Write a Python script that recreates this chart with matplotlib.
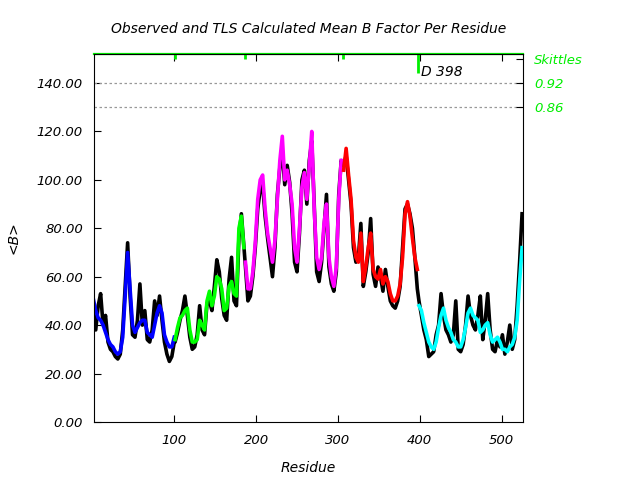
import numpy as np
import matplotlib
matplotlib.use("Agg")
import matplotlib.pyplot as plt

# residue positions for each TLS segment (every third residue)
blue_res = list(range(1, 101, 3))
green_res = list(range(101, 187, 3))
magenta_res = list(range(187, 307, 3))
red_res = list(range(307, 399, 3))
cyan_res = list(range(399, 527, 3))

# TLS calculated mean B per segment
blue_calc = [51, 46, 43, 42, 40, 37, 34, 32, 31, 29, 28, 29, 35, 52, 70, 55, 40,
             37, 39, 41, 42, 42, 37, 36, 35, 40, 45, 48, 45, 36, 33, 31, 31, 35]
green_calc = [34, 39, 43, 44, 46, 47, 38, 33, 33, 34, 42, 40, 38, 50, 54, 48, 52,
              60, 59, 55, 46, 47, 56, 58, 53, 52, 80, 85, 72]
magenta_calc = [66, 55, 55, 62, 74, 92, 100, 102, 88, 78, 72, 66, 75, 92, 108, 118,
                100, 104, 98, 90, 72, 66, 80, 97, 103, 92, 106, 120, 88, 68, 63, 68,
                82, 90, 68, 60, 56, 64, 92, 108]
red_calc = [104, 113, 102, 92, 75, 68, 66, 78, 58, 64, 72, 78, 63, 60, 59, 63, 57,
            60, 58, 53, 50, 50, 52, 57, 68, 86, 91, 85, 76, 68, 63]
cyan_calc = [48, 46, 41, 37, 33, 31, 30, 33, 39, 44, 47, 42, 39, 37, 34, 33, 31, 31,
             34, 39, 45, 47, 44, 43, 42, 37, 38, 40, 41, 36, 33, 34, 35, 33, 30, 30,
             29, 31, 32, 35, 42, 58, 72]

# observed mean B (same residues, all segments in a row)
obs_b = [45, 38, 48, 53, 40, 44, 33, 30, 29, 27, 26, 28, 38, 56, 74, 52, 36,
         35, 42, 57, 40, 46, 34, 33, 38, 50, 44, 52, 42, 33, 28, 25, 27, 33,
         33, 37, 42, 46, 52, 44, 35, 30, 31, 36, 48, 38, 36, 49, 50, 46, 56,
         67, 62, 51, 44, 42, 59, 68, 50, 48, 76, 86, 73,
         64, 50, 52, 60, 72, 88, 96, 98, 85, 76, 68, 60, 72, 94, 105, 112,
         98, 106, 99, 86, 66, 62, 78, 100, 104, 90, 108, 116, 90, 62, 58, 66,
         80, 94, 64, 57, 54, 62, 94, 108,
         106, 110, 100, 90, 72, 66, 68, 82, 56, 62, 70, 84, 61, 56, 64, 60, 54,
         63, 56, 50, 48, 47, 50, 56, 72, 88, 90, 86, 80, 68, 55,
         50, 44, 38, 34, 27, 28, 29, 36, 40, 53, 44, 38, 36, 33, 36, 50, 30, 29,
         32, 40, 52, 44, 40, 38, 44, 52, 34, 42, 53, 38, 30, 29, 34, 31, 36, 28,
         33, 40, 30, 34, 48, 66, 86]
obs_res = blue_res + green_res + magenta_res + red_res + cyan_res

# segment boundaries shown at the top, and the Skittles labels
break_res = [101, 186.5, 306.5]
skittles_ticks = [130, 140, 150]
skittles_labels = ["0.86", "0.92", "Skittles"]

green = "#00ee00"
font = {"family": "DejaVu Sans", "style": "italic"}

fig = plt.figure(figsize=(6.4, 4.8), dpi=100)
ax = fig.add_axes([0.147, 0.121, 0.670, 0.7665])

ax.plot(obs_res, obs_b, color="black", lw=2.6)
for r, v, c in [(blue_res, blue_calc, "#0000ff"), (green_res, green_calc, "#00ff00"),
                (magenta_res, magenta_calc, "#ff00ff"), (red_res, red_calc, "#ff0000"),
                (cyan_res, cyan_calc, "#00ffff")]:
    ax.plot(r, v, color=c, lw=2.6)

ax.set_xlim(2, 526)
ax.set_ylim(0, 152)

# dotted Skittles levels
for yv in [140, 130]:
    ax.axhline(yv, color="#999999", lw=0.9, ls=(0, (2, 2)))

# green top border with segment break ticks
ax.axhline(152, color=green, lw=1.6, clip_on=False)
ax.vlines(break_res, 150, 152, color=green, lw=2)
ax.vlines([398], 144.3, 152, color=green, lw=2)
ax.text(402, 144.5, "D 398", fontsize=10, va="center", ha="left", **font)

ax.set_xticks([100, 200, 300, 400, 500])
ax.set_yticks(np.arange(0, 141, 20))
ax.set_yticklabels(["%.2f" % t for t in np.arange(0, 141, 20)])
ax.tick_params(direction="in", top=True, right=True, length=5, labelsize=9.5)
for lab in ax.get_xticklabels() + ax.get_yticklabels():
    lab.set_fontstyle("italic")
ax.tick_params(axis="x", pad=9)
ax.tick_params(axis="y", pad=8)

ax2 = ax.twinx()
ax2.set_ylim(0, 152)
ax2.set_yticks(skittles_ticks)
ax2.set_yticklabels(skittles_labels, color=green, fontsize=9.5, fontstyle="italic")
ax2.tick_params(direction="in", length=5, pad=8)
for s in ax2.spines.values():
    s.set_visible(False)

ax.set_title("Observed and TLS Calculated Mean B Factor Per Residue", fontsize=10,
             pad=15, **font)
ax.set_xlabel("Residue", fontsize=10, labelpad=10, **font)
ax.set_ylabel("<B>", fontsize=10, labelpad=12, **font)

fig.savefig("out.png", dpi=100)
